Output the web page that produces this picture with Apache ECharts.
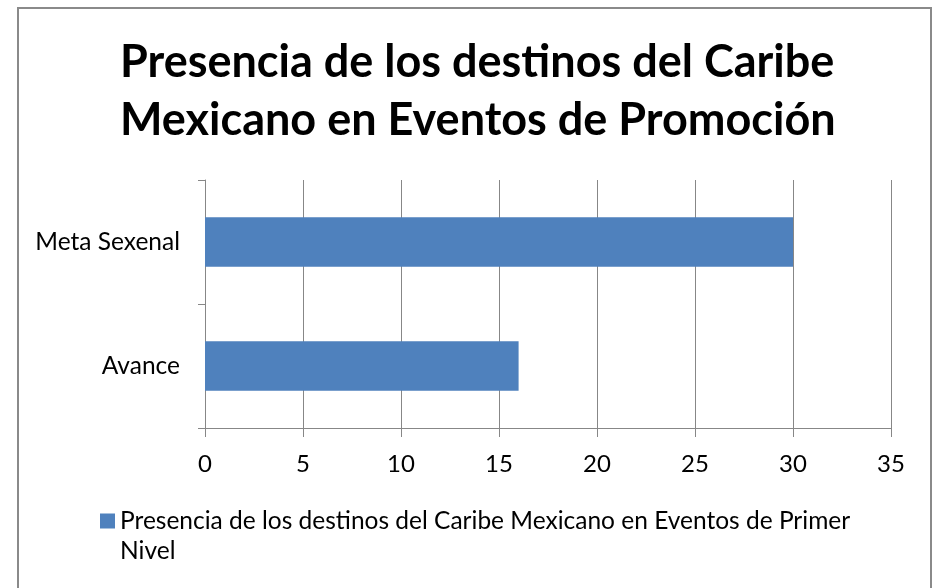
<!DOCTYPE html>
<html><head><meta charset="utf-8">
<script src="https://cdn.jsdelivr.net/npm/echarts@6/dist/echarts.min.js"></script>
<style>html,body{margin:0;padding:0;background:#fff}#c{width:935px;height:588px}</style>
</head><body><div id="c"></div>
<script>
const titleText = "Presencia de los destinos del Caribe\nMexicano en Eventos de Promoción";
const categories = ["Meta Sexenal", "Avance"];
const seriesName = "Presencia de los destinos del Caribe Mexicano en Eventos de Primer Nivel";
const values = [30, 16];
const xTicks = {min: 0, max: 35, interval: 5};

const chart = echarts.init(document.getElementById('c'), null, {renderer: 'canvas'});
chart.setOption({
  backgroundColor: '#ffffff',
  animation: false,
  graphic: [{
    type: 'rect', shape: {x: 18, y: 8, width: 913, height: 600},
    style: {fill: 'none', stroke: '#8a8a8a', lineWidth: 2}, silent: true
  }],
  title: {
    text: titleText, left: 115, top: 28,
    textStyle: {fontFamily: 'Lato', fontWeight: 'bold', fontSize: 45, lineHeight: 58, color: '#000'}
  },
  legend: {
    left: 100, top: 506, padding: 0,
    icon: 'path://M0,0L15,0L15,15L0,15Z M0,45L0.01,45L0.01,45.01Z',
    itemWidth: 15, itemHeight: 45, itemGap: 5,
    textStyle: {fontFamily: 'Lato', fontSize: 24.5, color: '#000', width: 760, overflow: 'break', lineHeight: 30},
    data: [seriesName]
  },
  grid: {left: 205, right: 44, top: 180, bottom: 160, containLabel: false},
  xAxis: {
    type: 'value', min: xTicks.min, max: xTicks.max, interval: xTicks.interval,
    axisLine: {show: true, lineStyle: {color: '#878787', width: 1}},
    axisTick: {show: true, length: 9, lineStyle: {color: '#878787'}},
    splitLine: {show: true, lineStyle: {color: '#878787', width: 1}},
    axisLabel: {fontFamily: 'Lato', fontSize: 24, color: '#000', margin: 24}
  },
  yAxis: {
    type: 'category', data: categories, inverse: true,
    axisLine: {show: true, lineStyle: {color: '#878787', width: 1}},
    axisTick: {show: true, length: 7, lineStyle: {color: '#878787'}},
    axisLabel: {fontFamily: 'Lato', fontSize: 24.5, color: '#000', margin: 25}
  },
  series: [{
    name: seriesName, type: 'bar', data: values, barCategoryGap: '60%',
    itemStyle: {color: '#4F81BD'}
  }]
});
</script></body></html>
